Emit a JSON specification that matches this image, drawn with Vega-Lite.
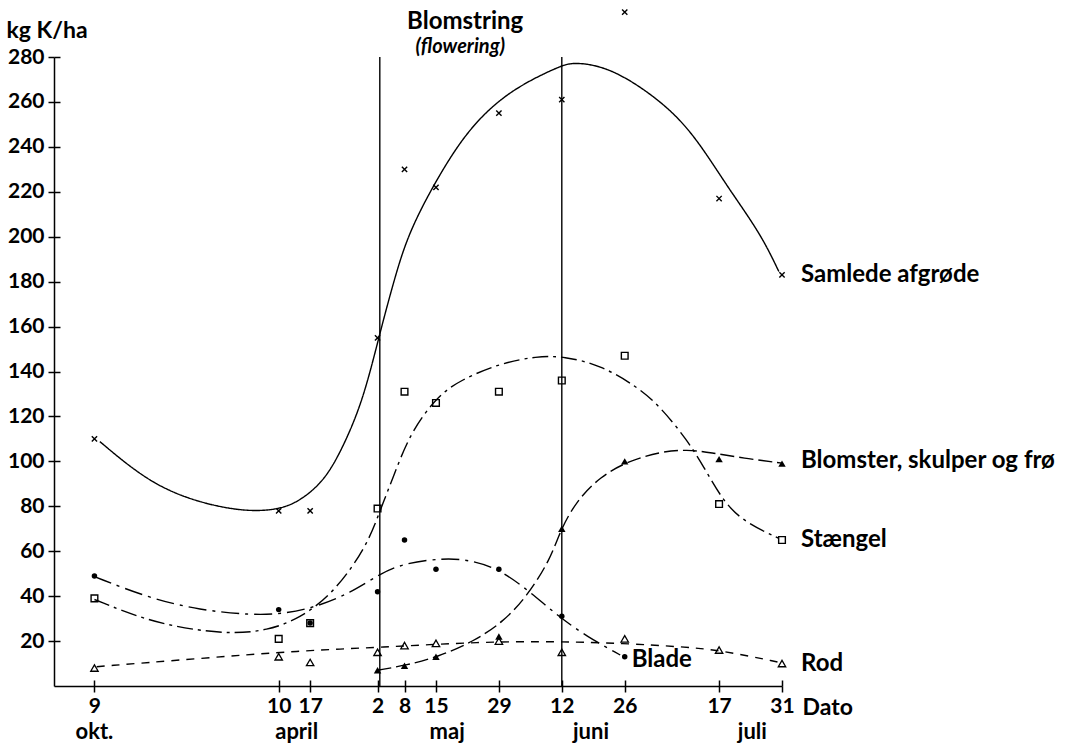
{
  "$schema": "https://vega.github.io/schema/vega-lite/v6.json",
  "width": 728,
  "height": 629,
  "autosize": "none",
  "padding": {"left": 54, "top": 57, "right": 300, "bottom": 60},
  "background": "white",
  "config": {
    "view": {"stroke": null},
    "font": "Lato",
    "axis": {
      "grid": false,
      "domainColor": "black",
      "domainWidth": 1.5,
      "tickColor": "black",
      "tickWidth": 1.5,
      "labelColor": "black",
      "labelFont": "Lato",
      "labelFontSize": 21,
      "labelFontWeight": "bold",
      "titleColor": "black",
      "titleFont": "Lato",
      "titleFontSize": 23,
      "titleFontWeight": "bold"
    }
  },
  "datasets": {
    "pts": [
      {"s": "Samlede", "d": -41, "v": 110}, {"s": "Samlede", "d": 0, "v": 78}, {"s": "Samlede", "d": 7, "v": 78},
      {"s": "Samlede", "d": 22, "v": 155}, {"s": "Samlede", "d": 28, "v": 230}, {"s": "Samlede", "d": 35, "v": 222},
      {"s": "Samlede", "d": 49, "v": 255}, {"s": "Samlede", "d": 63, "v": 261}, {"s": "Samlede", "d": 77, "v": 300},
      {"s": "Samlede", "d": 98, "v": 217}, {"s": "Samlede", "d": 112, "v": 183},
      {"s": "Stængel", "d": -41, "v": 39}, {"s": "Stængel", "d": 0, "v": 21}, {"s": "Stængel", "d": 7, "v": 28},
      {"s": "Stængel", "d": 22, "v": 79}, {"s": "Stængel", "d": 28, "v": 131}, {"s": "Stængel", "d": 35, "v": 126},
      {"s": "Stængel", "d": 49, "v": 131}, {"s": "Stængel", "d": 63, "v": 136}, {"s": "Stængel", "d": 77, "v": 147},
      {"s": "Stængel", "d": 98, "v": 81}, {"s": "Stængel", "d": 112, "v": 65},
      {"s": "Blomster", "d": 22, "v": 7}, {"s": "Blomster", "d": 28, "v": 9}, {"s": "Blomster", "d": 35, "v": 13},
      {"s": "Blomster", "d": 49, "v": 22}, {"s": "Blomster", "d": 63, "v": 70}, {"s": "Blomster", "d": 77, "v": 100},
      {"s": "Blomster", "d": 98, "v": 101}, {"s": "Blomster", "d": 112, "v": 99},
      {"s": "Blade", "d": -41, "v": 49}, {"s": "Blade", "d": 0, "v": 34}, {"s": "Blade", "d": 7, "v": 28},
      {"s": "Blade", "d": 22, "v": 42}, {"s": "Blade", "d": 28, "v": 65}, {"s": "Blade", "d": 35, "v": 52},
      {"s": "Blade", "d": 49, "v": 52}, {"s": "Blade", "d": 63, "v": 31}, {"s": "Blade", "d": 77, "v": 13},
      {"s": "Rod", "d": -41, "v": 8}, {"s": "Rod", "d": 0, "v": 13}, {"s": "Rod", "d": 7, "v": 10.5},
      {"s": "Rod", "d": 22, "v": 15}, {"s": "Rod", "d": 28, "v": 18}, {"s": "Rod", "d": 35, "v": 19},
      {"s": "Rod", "d": 49, "v": 20}, {"s": "Rod", "d": 63, "v": 15}, {"s": "Rod", "d": 77, "v": 21},
      {"s": "Rod", "d": 98, "v": 16}, {"s": "Rod", "d": 112, "v": 10}
    ],
    "curves": [
      {"s": "Samlede", "d": -39.8, "v": 108.8}, {"s": "Samlede", "d": -28.7, "v": 90.2}, {"s": "Samlede", "d": -17.5, "v": 81.3},
      {"s": "Samlede", "d": -6.4, "v": 77.3}, {"s": "Samlede", "d": 1, "v": 79}, {"s": "Samlede", "d": 4.8, "v": 82.8},
      {"s": "Samlede", "d": 8.5, "v": 88.5}, {"s": "Samlede", "d": 12.2, "v": 97.6}, {"s": "Samlede", "d": 17.4, "v": 119.9},
      {"s": "Samlede", "d": 20.3, "v": 139.2}, {"s": "Samlede", "d": 22.9, "v": 160}, {"s": "Samlede", "d": 25.5, "v": 179.3},
      {"s": "Samlede", "d": 27.7, "v": 194.1}, {"s": "Samlede", "d": 30.5, "v": 208}, {"s": "Samlede", "d": 35.9, "v": 228.2},
      {"s": "Samlede", "d": 42.6, "v": 249}, {"s": "Samlede", "d": 51.5, "v": 265.4}, {"s": "Samlede", "d": 62.6, "v": 276}, 
      {"s": "Samlede", "d": 65.6, "v": 277.8}, {"s": "Samlede", "d": 73.8, "v": 275.5}, {"s": "Samlede", "d": 84.9, "v": 260.9},
      {"s": "Samlede", "d": 92.3, "v": 246}, {"s": "Samlede", "d": 99.8, "v": 222.3}, {"s": "Samlede", "d": 107.2, "v": 201.5},
      {"s": "Samlede", "d": 111.3, "v": 184.5},
      {"s": "Stængel", "d": -41, "v": 38.5}, {"s": "Stængel", "d": -28.7, "v": 28.6}, {"s": "Stængel", "d": -17.5, "v": 24.6},
      {"s": "Stængel", "d": -10.2, "v": 23.4}, {"s": "Stængel", "d": -2.7, "v": 24.6}, {"s": "Stængel", "d": 4.7, "v": 30},
      {"s": "Stængel", "d": 12.2, "v": 41.3}, {"s": "Stængel", "d": 19.6, "v": 62}, {"s": "Stængel", "d": 22.6, "v": 78.4},
      {"s": "Stængel", "d": 25.5, "v": 93}, {"s": "Stængel", "d": 29.2, "v": 112.5}, {"s": "Stængel", "d": 35.2, "v": 128.8},
      {"s": "Stængel", "d": 40.4, "v": 136.2}, {"s": "Stængel", "d": 49.3, "v": 143.7}, {"s": "Stængel", "d": 57.5, "v": 146.8},
      {"s": "Stængel", "d": 63.4, "v": 146.8}, {"s": "Stængel", "d": 71.6, "v": 142.9}, {"s": "Stængel", "d": 79.7, "v": 133.3},
      {"s": "Stængel", "d": 84.9, "v": 124.4}, {"s": "Stængel", "d": 90.9, "v": 109.5}, {"s": "Stængel", "d": 94.6, "v": 97.6},
      {"s": "Stængel", "d": 98.3, "v": 84.3}, {"s": "Stængel", "d": 102.7, "v": 73.9}, {"s": "Stængel", "d": 111.3, "v": 65.7},
      {"s": "Blomster", "d": 22, "v": 7}, {"s": "Blomster", "d": 28.5, "v": 9.3}, {"s": "Blomster", "d": 35.2, "v": 12.8},
      {"s": "Blomster", "d": 43.3, "v": 19.7}, {"s": "Blomster", "d": 50, "v": 28.6}, {"s": "Blomster", "d": 55.2, "v": 39.8},
      {"s": "Blomster", "d": 60.4, "v": 56.1}, {"s": "Blomster", "d": 62.7, "v": 69.5}, {"s": "Blomster", "d": 66.4, "v": 82.8},
      {"s": "Blomster", "d": 71.6, "v": 93.2}, {"s": "Blomster", "d": 77.5, "v": 99.9}, {"s": "Blomster", "d": 84.9, "v": 104.3},
      {"s": "Blomster", "d": 90.9, "v": 105.3}, {"s": "Blomster", "d": 96.1, "v": 103.9}, {"s": "Blomster", "d": 103.5, "v": 101.4},
      {"s": "Blomster", "d": 112, "v": 99.2},
      {"s": "Blade", "d": -41, "v": 48.7}, {"s": "Blade", "d": -28.7, "v": 39}, {"s": "Blade", "d": -17.5, "v": 33.8},
      {"s": "Blade", "d": -6.4, "v": 31.6}, {"s": "Blade", "d": 1, "v": 32}, {"s": "Blade", "d": 8.5, "v": 35.3},
      {"s": "Blade", "d": 15.9, "v": 41.3}, {"s": "Blade", "d": 22.6, "v": 50}, {"s": "Blade", "d": 27.8, "v": 54.6},
      {"s": "Blade", "d": 36.7, "v": 57}, {"s": "Blade", "d": 42.6, "v": 56.1}, {"s": "Blade", "d": 49.3, "v": 51.9},
      {"s": "Blade", "d": 56.3, "v": 41.3}, {"s": "Blade", "d": 62.3, "v": 30.9}, {"s": "Blade", "d": 68.6, "v": 22},
      {"s": "Blade", "d": 76, "v": 13.8},
      {"s": "Rod", "d": -40.5, "v": 8.6}, {"s": "Rod", "d": -17.5, "v": 12.3}, {"s": "Rod", "d": 4.7, "v": 15.7},
      {"s": "Rod", "d": 22.6, "v": 17.2}, {"s": "Rod", "d": 44.8, "v": 19.7}, {"s": "Rod", "d": 62.6, "v": 19.8},
      {"s": "Rod", "d": 76.7, "v": 19}, {"s": "Rod", "d": 89.4, "v": 17.5}, {"s": "Rod", "d": 98.3, "v": 16},
      {"s": "Rod", "d": 111.7, "v": 10.4}
    ],
    "flower": [{"d": 22.5}, {"d": 63}],
    "months": [
      {"m": "okt.", "d": -41}, {"m": "april", "d": 4}, {"m": "maj", "d": 37.5}, {"m": "juni", "d": 69.5}, {"m": "juli", "d": 105.4}
    ],
    "labels": [
      {"lab": "Samlede afgrøde", "d": 112, "v": 183},
      {"lab": "Blomster, skulper og frø", "d": 112, "v": 100},
      {"lab": "Stængel", "d": 112, "v": 65},
      {"lab": "Rod", "d": 112, "v": 10}
    ],
    "blade": [{"lab": "Blade", "d": 77, "v": 11.5}],
    "head": [{"t": "Blomstring", "d": 41.5, "v": 295.5}],
    "head2": [{"t": "(flowering)", "d": 40.4, "v": 284.5}]
  },
  "resolve": {"axis": {"x": "independent", "y": "independent"}},
  "layer": [
    {
      "layer": [
        {
          "data": {"name": "curves"},
          "mark": {"type": "line", "interpolate": "basis", "color": "black", "strokeWidth": 1.4},
          "encoding": {
            "x": {
              "field": "d", "type": "quantitative",
              "scale": {"domain": [-50, 112], "nice": false, "zero": false},
              "axis": {
                "orient": "bottom",
                "values": [-41, 0, 7, 22, 28, 35, 49, 63, 77, 98, 112],
                "labelExpr": "['9','10','17','2','8','15','29','12','26','17','31'][indexof([-41,0,7,22,28,35,49,63,77,98,112], datum.value)]",
                "tickSize": 6,
                "labelPadding": 3,
                "labelFlush": false,
                "labelOverlap": false,
                "title": "Dato",
                "titleAlign": "left",
                "titleBaseline": "middle",
                "titleX": 748,
                "titleY": 21
              }
            },
            "y": {
              "field": "v", "type": "quantitative",
              "scale": {"domain": [0, 280], "nice": false, "zero": true},
              "axis": {
                "orient": "left",
                "values": [20, 40, 60, 80, 100, 120, 140, 160, 180, 200, 220, 240, 260, 280],
                "tickSize": 6,
                "labelPadding": 4,
                "labelFlush": false,
                "labelOverlap": false,
                "title": "kg K/ha",
                "titleAngle": 0,
                "titleAlign": "left",
                "titleBaseline": "middle",
                "titleX": -48,
                "titleY": -27
              }
            },
            "strokeDash": {
              "field": "s", "type": "nominal", "legend": null,
              "scale": {
                "domain": ["Samlede", "Stængel", "Blomster", "Blade", "Rod"],
                "range": [[1, 0], [16, 5, 3, 5], [14, 5], [18, 6, 3, 6], [8, 7]]
              }
            }
          }
        },
        {
          "data": {"name": "pts"},
          "transform": [{"filter": "datum.s === 'Samlede'"}],
          "mark": {"type": "point", "shape": "M-1,-1L1,1M-1,1L1,-1", "filled": false, "color": "black", "size": 28, "strokeWidth": 1.4, "opacity": 1},
          "encoding": {"x": {"field": "d", "type": "quantitative"}, "y": {"field": "v", "type": "quantitative"}}
        },
        {
          "data": {"name": "pts"},
          "transform": [{"filter": "datum.s === 'Stængel'"}],
          "mark": {"type": "point", "shape": "square", "filled": false, "color": "black", "size": 45, "strokeWidth": 1.4, "opacity": 1},
          "encoding": {"x": {"field": "d", "type": "quantitative"}, "y": {"field": "v", "type": "quantitative"}}
        },
        {
          "data": {"name": "pts"},
          "transform": [{"filter": "datum.s === 'Blomster'"}],
          "mark": {"type": "point", "shape": "triangle-up", "filled": true, "color": "black", "size": 55, "opacity": 1},
          "encoding": {"x": {"field": "d", "type": "quantitative"}, "y": {"field": "v", "type": "quantitative"}}
        },
        {
          "data": {"name": "pts"},
          "transform": [{"filter": "datum.s === 'Blade'"}],
          "mark": {"type": "point", "shape": "circle", "filled": true, "color": "black", "size": 30, "opacity": 1},
          "encoding": {"x": {"field": "d", "type": "quantitative"}, "y": {"field": "v", "type": "quantitative"}}
        },
        {
          "data": {"name": "pts"},
          "transform": [{"filter": "datum.s === 'Rod'"}],
          "mark": {"type": "point", "shape": "triangle-up", "filled": false, "color": "black", "size": 55, "strokeWidth": 1.3, "opacity": 1},
          "encoding": {"x": {"field": "d", "type": "quantitative"}, "y": {"field": "v", "type": "quantitative"}}
        },
        {
          "data": {"name": "months"},
          "mark": {"type": "text", "font": "Lato", "fontSize": 22, "fontWeight": "bold", "color": "black", "align": "center", "baseline": "middle"},
          "encoding": {"x": {"field": "d", "type": "quantitative"}, "y": {"datum": -20.5, "type": "quantitative"}, "text": {"field": "m"}}
        },
        {
          "data": {"name": "labels"},
          "mark": {"type": "text", "font": "Lato", "fontSize": 24, "fontWeight": "bold", "color": "black", "align": "left", "baseline": "middle", "dx": 19},
          "encoding": {"x": {"field": "d", "type": "quantitative"}, "y": {"field": "v", "type": "quantitative"}, "text": {"field": "lab"}}
        },
        {
          "data": {"name": "blade"},
          "mark": {"type": "text", "font": "Lato", "fontSize": 24, "fontWeight": "bold", "color": "black", "align": "left", "baseline": "middle", "dx": 7},
          "encoding": {"x": {"field": "d", "type": "quantitative"}, "y": {"field": "v", "type": "quantitative"}, "text": {"field": "lab"}}
        },
        {
          "data": {"name": "head"},
          "mark": {"type": "text", "font": "Lato", "fontSize": 24, "fontWeight": "bold", "color": "black", "align": "center", "baseline": "middle"},
          "encoding": {"x": {"field": "d", "type": "quantitative"}, "y": {"field": "v", "type": "quantitative"}, "text": {"field": "t"}}
        },
        {
          "data": {"name": "head2"},
          "mark": {"type": "text", "font": "Lato", "fontSize": 20, "fontWeight": "bold", "fontStyle": "italic", "color": "black", "align": "center", "baseline": "middle"},
          "encoding": {"x": {"field": "d", "type": "quantitative"}, "y": {"field": "v", "type": "quantitative"}, "text": {"field": "t"}}
        }
      ]
    },
    {
      "data": {"name": "flower"},
      "mark": {"type": "rule", "color": "black", "strokeWidth": 1.4},
      "encoding": {
        "x": {
          "field": "d", "type": "quantitative",
          "axis": {
            "orient": "bottom",
            "values": [-41, 0, 7, 22, 28, 35, 49, 63, 77, 98, 112],
            "tickSize": -6, "labels": false, "domain": false, "title": null
          }
        },
        "y": {
          "datum": 0, "type": "quantitative",
          "axis": {
            "orient": "left",
            "values": [20, 40, 60, 80, 100, 120, 140, 160, 180, 200, 220, 240, 260, 280],
            "tickSize": -6, "labels": false, "domain": false, "title": null
          }
        },
        "y2": {"datum": 280}
      }
    }
  ]
}
